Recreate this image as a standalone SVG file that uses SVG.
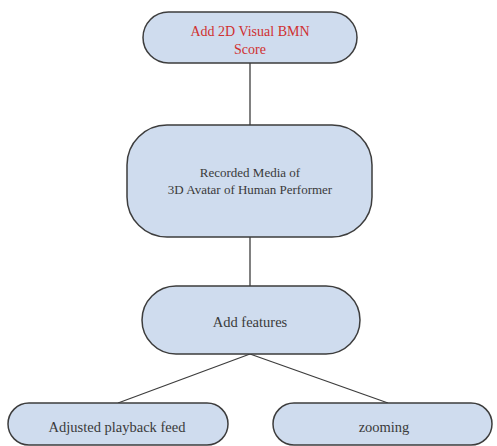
<svg xmlns="http://www.w3.org/2000/svg" width="497" height="446" viewBox="0 0 497 446">
<style>
.n{fill:#cfdcee;stroke:#3d3d3d;stroke-width:1.5}
.t{font-family:"Liberation Serif",serif;font-size:14.5px;fill:#3a3a3a;text-anchor:middle}
.r{fill:#d03030;font-size:14px}
.m{font-size:13px}
.c{stroke:#3d3d3d;stroke-width:1.3;fill:none}
</style>
<rect width="497" height="446" fill="#fff"/>
<g id="connectors">
<line class="c" x1="250" y1="63" x2="250" y2="125"/>
<line class="c" x1="250" y1="237" x2="250" y2="286"/>
<line class="c" x1="250" y1="354" x2="118" y2="403"/>
<line class="c" x1="250" y1="354" x2="388" y2="403"/>
</g>
<g id="n1">
<rect class="n" x="143" y="12" width="214" height="51" rx="25.5"/>
<text class="t r" x="250" y="36">Add 2D Visual BMN</text>
<text class="t r" x="250" y="54">Score</text>
</g>
<g id="n2">
<rect class="n" x="127" y="125" width="245" height="112" rx="40"/>
<text class="t m" x="250" y="177">Recorded Media of</text>
<text class="t m" x="250" y="194">3D Avatar of Human Performer</text>
</g>
<g id="n3">
<rect class="n" x="142" y="286" width="218" height="68" rx="34"/>
<text class="t" x="250" y="327">Add features</text>
</g>
<g id="n4">
<rect class="n" x="8" y="403" width="220" height="42" rx="21"/>
<text class="t" x="117" y="432">Adjusted playback feed</text>
</g>
<g id="n5">
<rect class="n" x="273" y="403" width="219" height="42" rx="21"/>
<text class="t" x="384" y="432">zooming</text>
</g>
</svg>
